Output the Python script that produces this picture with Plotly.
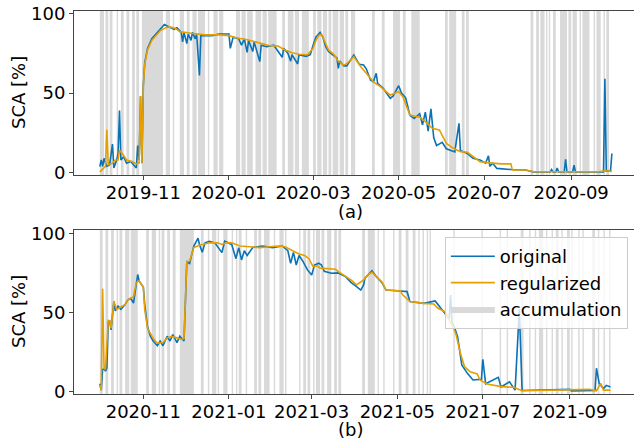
import pandas as pd
import plotly.graph_objects as go
from plotly.subplots import make_subplots

# ---------------- season 2019/20 (a) ----------------
orig_a_dates = ["2019-10-01","2019-10-02","2019-10-03","2019-10-04","2019-10-05","2019-10-06","2019-10-08",
    "2019-10-10","2019-10-11","2019-10-13","2019-10-14","2019-10-15","2019-10-16","2019-10-18","2019-10-20",
    "2019-10-23","2019-10-25","2019-10-27","2019-10-28","2019-10-29","2019-10-30","2019-10-31","2019-11-01",
    "2019-11-02","2019-11-04","2019-11-07","2019-11-10","2019-11-13","2019-11-16","2019-11-18","2019-11-20",
    "2019-11-23","2019-11-25","2019-11-28","2019-11-29","2019-11-30","2019-12-02","2019-12-03","2019-12-05",
    "2019-12-06","2019-12-08","2019-12-09","2019-12-11","2019-12-12","2019-12-15","2019-12-20","2019-12-25",
    "2020-01-01","2020-01-02","2020-01-04","2020-01-08","2020-01-10","2020-01-12","2020-01-14","2020-01-15",
    "2020-01-18","2020-01-19","2020-01-23","2020-01-24","2020-01-28","2020-02-02","2020-02-08","2020-02-09",
    "2020-02-12","2020-02-14","2020-02-15","2020-02-19","2020-02-20","2020-02-25","2020-02-28","2020-03-01",
    "2020-03-03","2020-03-06","2020-03-08","2020-03-10","2020-03-12","2020-03-15","2020-03-18","2020-03-19",
    "2020-03-20","2020-03-23","2020-03-25","2020-03-30","2020-04-03","2020-04-06","2020-04-08","2020-04-11",
    "2020-04-13","2020-04-15","2020-04-16","2020-04-20","2020-04-25","2020-04-27","2020-05-01","2020-05-03",
    "2020-05-06","2020-05-09","2020-05-12","2020-05-16","2020-05-18","2020-05-20","2020-05-22","2020-05-24",
    "2020-05-26","2020-05-28","2020-06-01","2020-06-04","2020-06-07","2020-06-10","2020-06-13","2020-06-14",
    "2020-06-19","2020-06-23","2020-06-28","2020-07-02","2020-07-04","2020-07-05","2020-07-07","2020-07-10",
    "2020-07-20","2020-07-31","2020-08-05","2020-08-17","2020-08-18","2020-08-19","2020-08-21","2020-08-22",
    "2020-08-23","2020-08-27","2020-08-28","2020-08-29","2020-09-02","2020-09-03","2020-09-04","2020-09-24",
    "2020-09-25","2020-09-26","2020-09-29","2020-09-30"]
orig_a_vals = [3.8,8,4,9,6,4,5,18,3,8,12,39,8,10,6,7,5,3,17,8,48,6,55,69,78,84,87,90,93,92,91,90,91,88,82,88,
    81,87,83,88,84,87,61,86,86,86,87,87,78,85,84,80,84,75.5,83,76,82,69.7,80,79,80,72.4,78,75,70,74,68.2,74,
    73,74,80,85,88,85,79,76,74,72,65.5,70,67,67,73.8,68,67.6,65,58,57,62.4,56,53,46.7,48,54.6,50,47,36,34,37,
    30,38,26,40,22,17,19,15,14,13,31,14,12,9,8,6,10.6,4,6,2.7,2,1.5,0.5,0.5,2,0.5,0.5,3,0.5,0.5,8.4,0.5,0.5,
    4.8,0.5,0.5,59,1,1,12]

reg_a_dates = ["2019-10-01","2019-10-03","2019-10-05","2019-10-06","2019-10-07","2019-10-10","2019-10-12",
    "2019-10-14","2019-10-15","2019-10-17","2019-10-20","2019-10-24","2019-10-27","2019-10-29","2019-10-30",
    "2019-10-31","2019-11-01","2019-11-02","2019-11-04","2019-11-07","2019-11-10","2019-11-13","2019-11-17",
    "2019-11-20","2019-11-24","2019-11-27","2019-12-05","2019-12-15","2019-12-25","2020-01-01","2020-01-07",
    "2020-01-15","2020-01-22","2020-01-30","2020-02-05","2020-02-10","2020-02-15","2020-02-20","2020-02-26",
    "2020-03-01","2020-03-03","2020-03-05","2020-03-07","2020-03-09","2020-03-12","2020-03-16","2020-03-19",
    "2020-03-23","2020-03-25","2020-03-30","2020-04-04","2020-04-09","2020-04-13","2020-04-18","2020-04-25",
    "2020-05-01","2020-05-04","2020-05-09","2020-05-16","2020-05-20","2020-05-25","2020-05-30","2020-06-04",
    "2020-06-09","2020-06-14","2020-06-19","2020-06-23","2020-06-28","2020-07-03","2020-07-13","2020-07-20",
    "2020-07-21","2020-07-31","2020-08-05","2020-09-20","2020-09-25","2020-09-30"]
reg_a_vals = [0.5,2,4,27,5,6,8,8,14,12,8,7,5.5,6,48,6,55,68,77,83,86,89,91,91.5,90.5,88.5,87.5,86.5,86.5,86,
    84.5,83.3,81.6,79.7,79.5,77,75.3,74.3,74,78,83,86,87,83,77,74,70,67.5,68.5,72.8,66.5,61.3,57,54,48.7,50.8,
    47.7,36.2,34.8,32,27.9,26.8,18.4,15.3,13.2,12.8,10,6.9,6.3,5.5,5.5,1.7,1.7,0.6,0.6,1.2,0.8]

acc_a_start = ["2019-10-01","2019-10-05","2019-10-08","2019-10-13","2019-10-16","2019-10-20","2019-10-24",
    "2019-10-27","2019-10-31","2019-11-17","2019-11-22","2019-11-27","2019-12-02","2019-12-06","2019-12-10",
    "2019-12-17","2019-12-21","2019-12-25","2020-01-06","2020-01-10","2020-01-14","2020-01-20","2020-01-25",
    "2020-01-29","2020-01-31","2020-02-08","2020-02-12","2020-02-14","2020-02-17","2020-02-22","2020-02-24",
    "2020-03-01","2020-03-04","2020-03-08","2020-03-12","2020-03-15","2020-03-17","2020-03-20","2020-03-22",
    "2020-03-24","2020-03-28","2020-04-12","2020-04-19","2020-04-27","2020-05-04","2020-05-10","2020-06-03",
    "2020-06-06","2020-06-08","2020-06-15","2020-06-18","2020-08-03","2020-08-07","2020-08-10","2020-08-14",
    "2020-08-16","2020-08-19","2020-08-24","2020-08-30","2020-09-02","2020-09-07","2020-09-09","2020-09-17",
    "2020-09-19","2020-09-24","2020-09-26"]
acc_a_end = ["2019-10-03","2019-10-06","2019-10-09","2019-10-13","2019-10-17","2019-10-21","2019-10-25",
    "2019-10-28","2019-11-14","2019-11-19","2019-11-22","2019-11-29","2019-12-03","2019-12-08","2019-12-14",
    "2019-12-17","2019-12-23","2019-12-27","2020-01-08","2020-01-12","2020-01-17","2020-01-23","2020-01-27",
    "2020-01-30","2020-02-03","2020-02-09","2020-02-13","2020-02-15","2020-02-19","2020-02-23","2020-02-26",
    "2020-03-02","2020-03-06","2020-03-10","2020-03-13","2020-03-16","2020-03-18","2020-03-21","2020-03-22",
    "2020-03-25","2020-03-30","2020-04-13","2020-04-20","2020-05-01","2020-05-05","2020-05-15","2020-06-04",
    "2020-06-07","2020-06-10","2020-06-16","2020-06-19","2020-08-04","2020-08-08","2020-08-12","2020-08-14",
    "2020-08-16","2020-08-20","2020-08-28","2020-08-31","2020-09-04","2020-09-07","2020-09-13","2020-09-17",
    "2020-09-21","2020-09-24","2020-09-27"]

# ---------------- season 2020/21 (b) ----------------
orig_b_dates = ["2020-10-01","2020-10-02","2020-10-03","2020-10-04","2020-10-05","2020-10-06","2020-10-07",
    "2020-10-08","2020-10-09","2020-10-11","2020-10-12","2020-10-14","2020-10-16","2020-10-19","2020-10-21",
    "2020-10-23","2020-10-25","2020-10-26","2020-10-28","2020-10-29","2020-11-01","2020-11-02","2020-11-04",
    "2020-11-06","2020-11-08","2020-11-11","2020-11-13","2020-11-15","2020-11-18","2020-11-20","2020-11-22",
    "2020-11-25","2020-11-27","2020-11-30","2020-12-02","2020-12-04","2020-12-07","2020-12-10","2020-12-11",
    "2020-12-13","2020-12-15","2020-12-18","2020-12-22","2020-12-27","2020-12-29","2021-01-03","2021-01-06",
    "2021-01-08","2021-01-10","2021-01-12","2021-01-14","2021-01-18","2021-01-25","2021-02-01","2021-02-08",
    "2021-02-12","2021-02-14","2021-02-16","2021-02-18","2021-02-20","2021-02-23","2021-02-26","2021-03-01",
    "2021-03-03","2021-03-06","2021-03-08","2021-03-10","2021-03-15","2021-03-20","2021-03-25","2021-03-29",
    "2021-04-02","2021-04-05","2021-04-07","2021-04-08","2021-04-13","2021-04-16","2021-04-20","2021-04-23",
    "2021-05-03","2021-05-08","2021-05-10","2021-05-20","2021-05-28","2021-06-01","2021-06-04","2021-06-07",
    "2021-06-08","2021-06-09","2021-06-11","2021-06-13","2021-06-16","2021-06-20","2021-06-24","2021-06-30",
    "2021-07-01","2021-07-03","2021-07-12","2021-07-14","2021-07-20","2021-07-23","2021-07-24","2021-07-27",
    "2021-07-29","2021-09-01","2021-09-02","2021-09-19","2021-09-20","2021-09-22","2021-09-25","2021-09-27",
    "2021-09-30"]
orig_b_vals = [5,1,14,14.4,13,15,44,45,39,57,51,54,52,55,58,59,56,62,74,70,66,55,41,35,32,29,32,29,35,32,36,
    31,35,32,82,81,92,97,93,88,94,95,94,87.8,95,93,84,91,83.2,89,86,91,92,91,92,89,81,88,80,86,82,76.9,73.7,
    80,81.1,80,76,74.8,75,72.7,69,66.3,64.2,67.4,71.7,76.4,72.7,69,64.2,63.6,63.2,57,55.8,57.3,52.7,50,46,61,
    44,40,34.7,16.9,11.6,7.4,7.8,20.5,5,9.1,3,6.3,2.5,1,52,0.8,1.5,0.5,0.8,14.8,5,2,4,3]

reg_b_dates = ["2020-10-01","2020-10-02","2020-10-03","2020-10-04","2020-10-05","2020-10-07","2020-10-08",
    "2020-10-09","2020-10-11","2020-10-13","2020-10-15","2020-10-19","2020-10-21","2020-10-25","2020-10-27",
    "2020-10-29","2020-11-01","2020-11-02","2020-11-04","2020-11-08","2020-11-11","2020-11-15","2020-11-18",
    "2020-11-21","2020-11-25","2020-11-28","2020-11-30","2020-12-02","2020-12-04","2020-12-07","2020-12-11",
    "2020-12-15","2020-12-18","2020-12-24","2020-12-27","2020-12-30","2021-01-03","2021-01-09","2021-01-16",
    "2021-01-23","2021-01-30","2021-02-05","2021-02-10","2021-02-15","2021-02-18","2021-02-20","2021-02-24",
    "2021-02-27","2021-03-02","2021-03-05","2021-03-07","2021-03-13","2021-03-18","2021-03-20","2021-03-24",
    "2021-03-29","2021-04-02","2021-04-07","2021-04-10","2021-04-13","2021-04-16","2021-04-20","2021-04-23",
    "2021-05-03","2021-05-05","2021-05-10","2021-05-20","2021-05-27","2021-05-30","2021-06-04","2021-06-07",
    "2021-06-10","2021-06-12","2021-06-15","2021-06-18","2021-06-22","2021-06-27","2021-06-29","2021-07-04",
    "2021-07-09","2021-07-14","2021-07-23","2021-07-29","2021-09-15","2021-09-20","2021-09-23","2021-09-25",
    "2021-09-30"]
reg_b_vals = [4.2,1,65,15,14,45,45,40,57,52,53,55,58,60,69,70,66,52,40,33.7,30.6,31,34,35,34,33,33.5,82,82.5,
    91,92.5,93.5,94,94,93,94,94,92,91.5,91,91.5,92,91.5,89,88,87,86,84,79,79.5,78,77.5,77.3,75.8,73.7,70.6,
    67.4,70.6,73.7,75.4,72.7,69.5,64.2,63.8,61,56.9,55.8,55.4,52.7,50.5,45.3,40.7,35.8,24.3,15.8,12.6,11.2,
    7.4,4.9,4.2,3.2,2.8,0.6,1.5,0.6,5.3,1,1]

acc_b_start = ["2020-10-01","2020-10-05","2020-10-09","2020-10-13","2020-10-15","2020-10-19","2020-10-23",
    "2020-11-03","2020-11-07","2020-11-12","2020-11-14","2020-11-18","2020-11-22","2020-11-27","2020-12-12",
    "2020-12-17","2020-12-20","2020-12-24","2020-12-28","2021-01-03","2021-01-06","2021-01-08","2021-01-13",
    "2021-01-19","2021-01-22","2021-01-26","2021-02-02","2021-02-06","2021-02-10","2021-02-20","2021-02-23",
    "2021-02-26","2021-03-02","2021-03-04","2021-03-08","2021-03-12","2021-03-17","2021-03-20","2021-04-06",
    "2021-04-10","2021-04-17","2021-04-21","2021-04-28","2021-05-02","2021-05-07","2021-05-12","2021-05-16",
    "2021-05-19","2021-05-22","2021-05-24","2021-06-10","2021-06-30","2021-07-13","2021-07-18","2021-07-28",
    "2021-08-03","2021-08-07","2021-08-10","2021-08-15","2021-08-19","2021-08-22","2021-08-26","2021-08-30",
    "2021-09-02","2021-09-07","2021-09-10","2021-09-17","2021-09-21","2021-09-25","2021-09-29"]
acc_b_end = ["2020-10-02","2020-10-06","2020-10-10","2020-10-13","2020-10-16","2020-10-21","2020-10-27",
    "2020-11-04","2020-11-09","2020-11-12","2020-11-15","2020-11-19","2020-11-23","2020-12-06","2020-12-13",
    "2020-12-17","2020-12-22","2020-12-24","2020-12-30","2021-01-03","2021-01-06","2021-01-09","2021-01-13",
    "2021-01-20","2021-01-23","2021-01-29","2021-02-02","2021-02-08","2021-02-10","2021-02-20","2021-02-24",
    "2021-02-27","2021-03-02","2021-03-06","2021-03-09","2021-03-14","2021-03-18","2021-03-21","2021-04-07",
    "2021-04-14","2021-04-17","2021-04-21","2021-04-28","2021-05-03","2021-05-08","2021-05-13","2021-05-16",
    "2021-05-19","2021-05-22","2021-05-24","2021-06-10","2021-06-30","2021-07-13","2021-07-18","2021-07-29",
    "2021-08-03","2021-08-07","2021-08-12","2021-08-15","2021-08-19","2021-08-23","2021-08-26","2021-08-31",
    "2021-09-02","2021-09-07","2021-09-10","2021-09-18","2021-09-21","2021-09-25","2021-09-29"]

BLUE = "#0a72b5"
ORANGE = "#e69f00"
GRAY = "#d9d9d9"
FONT = "DejaVu Sans"
Y_A = [-1.45, 101.45]
Y_B = [-1.45, 102.1]


def band_polygons(starts, ends, lo, hi):
    """Closed rectangles (one per accumulation spell, whole days) separated by gaps."""
    xs, ys = [], []
    for s, e in zip(starts, ends):
        x0 = pd.Timestamp(s)
        x1 = pd.Timestamp(e) + pd.Timedelta(days=1)
        xs += [x0, x0, x1, x1, x0, None]
        ys += [lo, hi, hi, lo, lo, None]
    return xs, ys


fig = make_subplots(rows=2, cols=1, shared_xaxes=False, vertical_spacing=0.12)

panels = [
    (1, orig_a_dates, orig_a_vals, reg_a_dates, reg_a_vals, acc_a_start, acc_a_end, Y_A, False),
    (2, orig_b_dates, orig_b_vals, reg_b_dates, reg_b_vals, acc_b_start, acc_b_end, Y_B, True),
]
for row, od, ov, rd, rv, ast, aen, yr, leg in panels:
    bx, by = band_polygons(ast, aen, yr[0], yr[1])
    fig.add_trace(go.Scatter(x=bx, y=by, mode="lines", fill="toself", fillcolor=GRAY,
                             line=dict(width=0, color=GRAY), name="accumulation",
                             showlegend=leg, legendrank=3, legendgroup="c",
                             hoverinfo="skip"), row=row, col=1)
    fig.add_trace(go.Scatter(x=od, y=ov, mode="lines", line=dict(color=BLUE, width=1.6),
                             name="original", showlegend=leg, legendrank=1, legendgroup="a"),
                  row=row, col=1)
    fig.add_trace(go.Scatter(x=rd, y=rv, mode="lines", line=dict(color=ORANGE, width=1.6),
                             name="regularized", showlegend=leg, legendrank=2, legendgroup="b"),
                  row=row, col=1)

H = 447
axis_common = dict(showgrid=False, zeroline=False, showline=True, linecolor="#444", linewidth=1,
                   ticks="outside", ticklen=4, tickcolor="#444", automargin=False,
                   tickfont=dict(family=FONT, size=18, color="black"))

fig.update_xaxes(**axis_common, mirror=True, dtick="M2", tickformat="%Y-%m", ticklabelstandoff=-3)
fig.update_xaxes(row=1, col=1, range=["2019-09-12 14:00", "2020-10-15 18:00"],
                 tick0="2019-11-01", domain=[0, 1])
fig.update_xaxes(row=2, col=1, range=["2020-09-12 14:00", "2021-10-16 18:00"],
                 tick0="2020-11-01", domain=[0, 1])

fig.update_yaxes(**axis_common, mirror=False, tickvals=[0, 50, 100])
fig.update_yaxes(row=1, col=1, range=Y_A, domain=[1 - 175 / H, 1 - 11 / H])
fig.update_yaxes(row=2, col=1, range=Y_B, domain=[1 - 394 / H, 1 - 230 / H])

# y-axis titles, centred on each panel
for ypix in (93, 312):
    fig.add_annotation(text="SCA [%]", x=-0.10, y=1 - ypix / H, xref="paper", yref="paper",
                       xanchor="center", yanchor="middle", textangle=-90, showarrow=False,
                       font=dict(family=FONT, size=18, color="black"))

# panel labels
for label, ypix in (("(a)", 211), ("(b)", 429)):
    fig.add_annotation(text=label, x=0.493, y=1 - ypix / H, xref="paper", yref="paper",
                       xanchor="center", yanchor="middle", showarrow=False,
                       font=dict(family=FONT, size=18, color="black"))

fig.update_layout(
    width=634, height=447,
    margin=dict(l=74, r=0, t=0, b=0, autoexpand=False),
    paper_bgcolor="white", plot_bgcolor="white",
    font=dict(family=FONT, size=18, color="black"),
    legend=dict(x=0.989, y=1 - 237 / H, xanchor="right", yanchor="top",
                bgcolor="rgba(255,255,255,0.8)", bordercolor="#cccccc", borderwidth=1,
                font=dict(family=FONT, size=18, color="black"), tracegroupgap=0,
                itemwidth=44),
    showlegend=True,
)

fig.write_html("out.html")
